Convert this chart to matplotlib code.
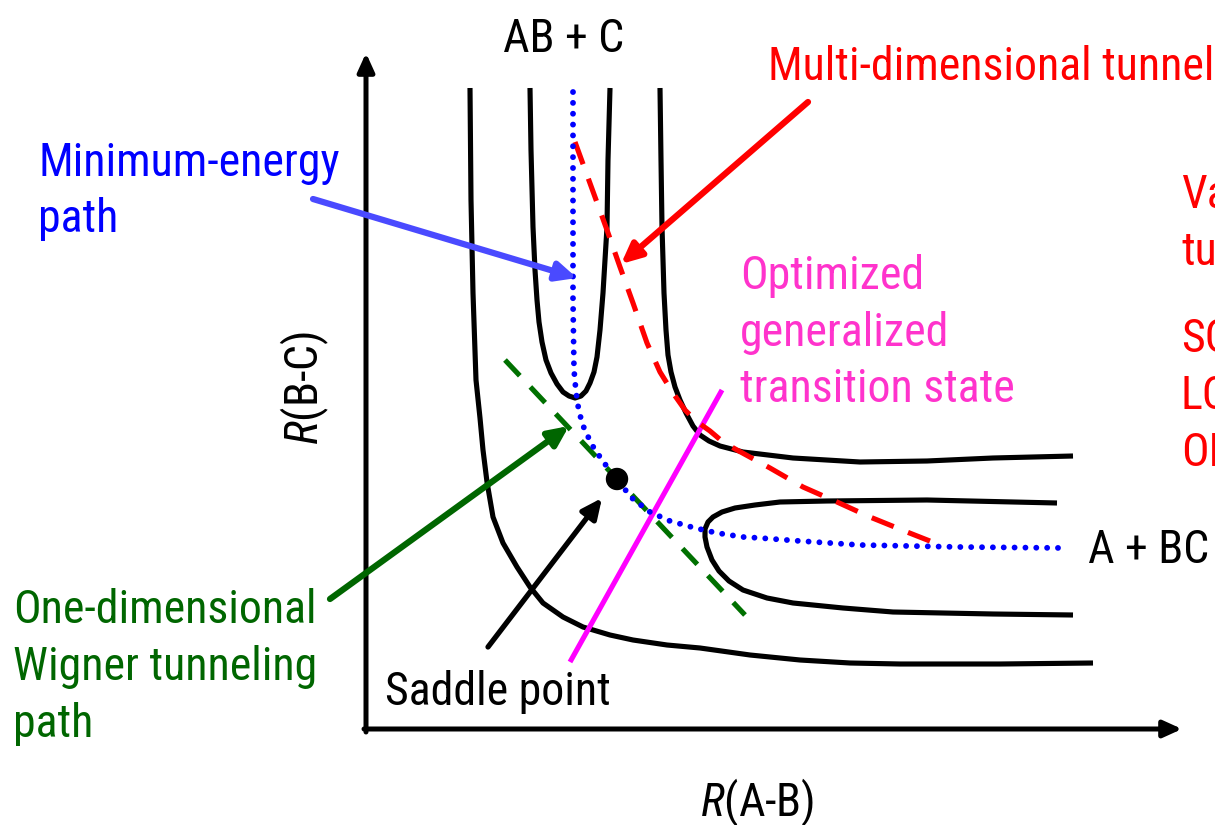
import matplotlib
matplotlib.use("Agg")
import matplotlib.pyplot as plt
from matplotlib.patches import Circle

FONT = ['Roboto Condensed', 'DejaVu Sans']
plt.rcParams['font.family'] = FONT
plt.rcParams['mathtext.fontset'] = 'custom'
plt.rcParams['mathtext.rm'] = 'Roboto Condensed'
plt.rcParams['mathtext.it'] = 'Roboto Condensed:italic'

# ---- schematic geometry (pixel coordinates, y downwards) ----
outer_left = [(470, 88), (471, 200), (473, 293), (476, 380), (480, 418), (483, 450),
              (487, 482), (493, 517), (503, 543), (517, 567), (530, 587), (543, 603),
              (563, 617), (583, 627), (610, 635), (633, 640), (667, 645), (700, 648),
              (750, 655), (800, 660), (850, 663), (900, 664), (1000, 664), (1093, 663)]
u_valley = [(530, 88), (531, 150), (533, 227), (535, 270), (537, 300), (539, 322),
            (542, 342), (546, 360), (551, 373), (557, 384), (563, 392), (569, 396),
            (575, 398), (581, 396), (586, 391), (590, 383), (594, 372), (597, 357),
            (600, 330), (603, 293), (605, 260), (607, 227), (608, 160), (610, 88)]
inner_corner = [(660, 88), (661, 160), (662, 227), (664, 293), (666, 330), (668, 355),
                (671, 372), (675, 387), (680, 400), (686, 413), (693, 426), (700, 435),
                (709, 441), (720, 446), (743, 452), (793, 458), (860, 462), (927, 461),
                (993, 458), (1073, 456)]
bc_loop = [(1057, 503), (927, 500), (827, 501), (780, 502), (755, 505), (735, 508),
           (722, 512), (713, 517), (708, 522), (705, 529), (705, 537), (707, 547),
           (712, 560), (719, 571), (729, 581), (743, 590), (767, 598), (793, 603),
           (843, 608), (893, 612), (993, 614), (1073, 615)]
mep_path = [(573, 92), (573, 200), (573, 300), (574, 370), (576, 392), (579, 412),
            (584, 428), (592, 445), (602, 460), (617, 480), (633, 499), (650, 512),
            (670, 521), (695, 528), (717, 533), (743, 537), (760, 538), (800, 541),
            (860, 545), (960, 547), (1065, 548)]
sct_path = [(575, 142), (595, 197), (607, 230), (620, 267), (633, 303), (647, 343),
            (660, 372), (673, 393), (685, 410), (696, 421), (710, 431), (723, 442),
            (737, 450), (770, 468), (803, 487), (837, 502), (870, 517), (907, 532),
            (940, 545)]
wigner_path = [(505, 360), (745, 615)]
ogts_line = [(570, 662), (722, 390)]
saddle_point = (617, 479)

# arrows: (start, tip, colour, width)
arrows = [((313, 199), (577, 278), '#4a4aff', 4.5),
          ((808, 102), (621, 264), '#ff0000', 4.5),
          ((330, 599), (569, 426), '#006600', 4.5),
          ((488, 647), (602, 498), '#000000', 3.8)]

# texts: (x, y_baseline, string, colour)
labels = [(503, 52, 'AB + C', 'black'),
          (768, 80, 'Multi-dimensional tunneling path', '#ff0000'),
          (38, 176, 'Minimum-energy', '#0000ff'),
          (38, 232, 'path', '#0000ff'),
          (1181, 208, 'Variational', '#ff0000'),
          (1181, 265, 'tunneling', '#ff0000'),
          (1181, 352, 'SCT', '#ff0000'),
          (1181, 409, 'LCT', '#ff0000'),
          (1181, 466, 'OMT', '#ff0000'),
          (740, 289, 'Optimized', '#ff33cc'),
          (740, 346, 'generalized', '#ff33cc'),
          (740, 402, 'transition state', '#ff33cc'),
          (1088, 563, 'A + BC', 'black'),
          (13, 623, 'One-dimensional', '#006600'),
          (13, 680, 'Wigner tunneling', '#006600'),
          (13, 737, 'path', '#006600'),
          (385, 705, 'Saddle point', 'black'),
          (700, 816, r'$R$(A-B)', 'black')]

FS = 33
LW = 3.7

fig = plt.figure(figsize=(12.15, 8.25), dpi=100)
ax = fig.add_axes([0, 0, 1, 1])
ax.set_xlim(0, 1215)
ax.set_ylim(825, 0)
ax.axis('off')

def xy(pts):
    return [p[0] for p in pts], [p[1] for p in pts]

# coordinate axes
ax.annotate('', xy=(366, 53), xytext=(366, 732),
            arrowprops=dict(arrowstyle='-|>,head_length=0.55,head_width=0.25',
                            lw=3.6, color='black', mutation_scale=20,
                            shrinkA=0, shrinkB=0))
ax.annotate('', xy=(1182, 729), xytext=(364, 729),
            arrowprops=dict(arrowstyle='-|>,head_length=0.55,head_width=0.25',
                            lw=3.6, color='black', mutation_scale=20,
                            shrinkA=0, shrinkB=0))

# contours
for c in (outer_left, u_valley, inner_corner, bc_loop):
    ax.plot(*xy(c), color='black', lw=LW, solid_capstyle='butt',
            solid_joinstyle='round')

# paths
ax.plot(*xy(ogts_line), color='#ff00ff', lw=3.7, solid_capstyle='butt')
ax.plot(*xy(wigner_path), color='#007000', lw=3.7, linestyle=(0, (4.2, 3.0)),
        dash_capstyle='butt')
ax.plot(*xy(sct_path), color='#ff0000', lw=3.7, linestyle=(0, (4.6, 3.0)),
        dash_capstyle='butt', dash_joinstyle='round')
ax.plot(*xy(mep_path), color='#0000ff', lw=4.2, linestyle=(0, (0.01, 1.85)),
        dash_capstyle='round')

ax.add_patch(Circle(saddle_point, 10.5, color='black', zorder=5))

for start, tip, col, w in arrows:
    ax.annotate('', xy=tip, xytext=start,
                arrowprops=dict(arrowstyle='-|>,head_length=0.6,head_width=0.28',
                                lw=w, color=col, mutation_scale=20,
                                shrinkA=0, shrinkB=0))

for x, y, s, col in labels:
    ax.text(x, y, s, color=col, fontsize=FS, ha='left', va='baseline')

ax.text(318, 445, r'$R$(B-C)', color='black', fontsize=FS, rotation=90,
        rotation_mode='anchor', ha='left', va='baseline')

fig.savefig('out.png', dpi=100)
